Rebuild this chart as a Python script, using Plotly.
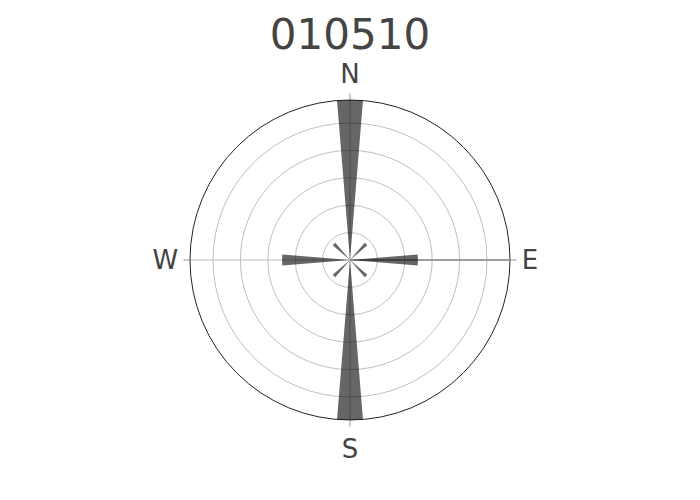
import plotly.graph_objects as go

directions = [0, 45, 90, 135, 180, 225, 270, 315]
frequencies = [5.84, 0.83, 2.48, 0.83, 5.84, 0.83, 2.48, 0.83]
tick_angles = [0, 90, 180, 270]
tick_labels = ["N", "E", "S", "W"]
title_text = "010510"

fig = go.Figure(
    go.Barpolar(
        r=frequencies,
        theta=directions,
        width=[9.3] * len(directions),
        marker=dict(color="black", opacity=0.6, line=dict(width=0)),
        showlegend=False,
    )
)

fig.update_layout(
    template="none",
    font=dict(family="DejaVu Sans", color="#444"),
    title=dict(text=title_text, x=0.5, xanchor="center", y=0.946, yanchor="middle",
               font=dict(size=42, color="#444")),
    margin=dict(l=80, r=80, t=92, b=72),
    paper_bgcolor="white",
    polar=dict(
        bgcolor="white",
        angularaxis=dict(
            direction="clockwise",
            rotation=90,
            tickmode="array",
            tickvals=tick_angles,
            ticktext=tick_labels,
            tickfont=dict(size=26, color="#444"),
            ticks="outside",
            ticklen=6,
            tickcolor="#999",
            showgrid=True,
            gridcolor="#bbb",
            gridwidth=1,
            showline=True,
            linecolor="#222",
            linewidth=1,
            layer="below traces",
        ),
        radialaxis=dict(
            range=[0, 5.84],
            dtick=1,
            tick0=0,
            showticklabels=False,
            ticks="",
            showgrid=True,
            gridcolor="#c0c0c0",
            gridwidth=1,
            showline=True,
            linecolor="#888",
            linewidth=1.5,
            layer="below traces",
        ),
    ),
)

fig.write_html("out.html")
